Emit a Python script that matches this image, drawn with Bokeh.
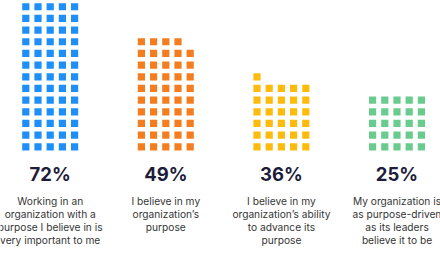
from bokeh.plotting import figure
from bokeh.models import Range1d
from bokeh.core.properties import value
from bokeh.embed import file_html
from bokeh.resources import INLINE

# ---- data ----
percents = [72, 49, 36, 25]
squares = [72, 49, 31, 25]   # squares drawn in each waffle column (as pictured)
colors = ["#1e8ff6", "#f47d20", "#fdbb0e", "#6acb8e"]
labels = [
    ["Working in an", "organization with a", "purpose I believe in is", "very important to me"],
    ["I believe in my", "organization\u2019s", "purpose"],
    ["I believe in my", "organization\u2019s ability", "to advance its", "purpose"],
    ["My organization is", "as purpose-driven", "as its leaders", "believe it to be"],
]

W, H = 440, 264
p = figure(width=W, height=H, output_backend="svg", toolbar_location=None,
           x_range=Range1d(0, W), y_range=Range1d(H, 0), min_border=0)
p.axis.visible = False
p.grid.visible = False
p.outline_line_color = None
p.background_fill_color = "white"
p.border_fill_color = "white"

col_centers = [49.7 + 115.6 * i for i in range(len(percents))]
dx, dy = 12.2, 11.67
bottom = 146.3
per_row = 5

xs, ys, cs = [], [], []
for i, n in enumerate(squares):
    for k in range(n):
        r, c = divmod(k, per_row)
        xs.append(col_centers[i] + (c - 2) * dx)
        ys.append(bottom - r * dy)
        cs.append(colors[i])
p.rect(x=xs, y=ys, width=7.2, height=7.2, fill_color=cs, line_color=None)

p.text(x=col_centers, y=[173] * len(percents), text=[f"{v}%" for v in percents],
       text_align="center", text_baseline="middle", text_font=value("Inter"),
       text_font_style="bold", text_font_size="18.5px", text_color="#1d1d3b")

lx, ly, lt = [], [], []
for i, lines in enumerate(labels):
    for j, t in enumerate(lines):
        lx.append(col_centers[i]); ly.append(200.3 + 13.1 * j); lt.append(t)
p.text(x=lx, y=ly, text=lt, text_align="center", text_baseline="middle",
       text_font=value("Inter"), text_font_size="10.2px", text_color="#353535")

open("out.html", "w").write(file_html(p, INLINE))
